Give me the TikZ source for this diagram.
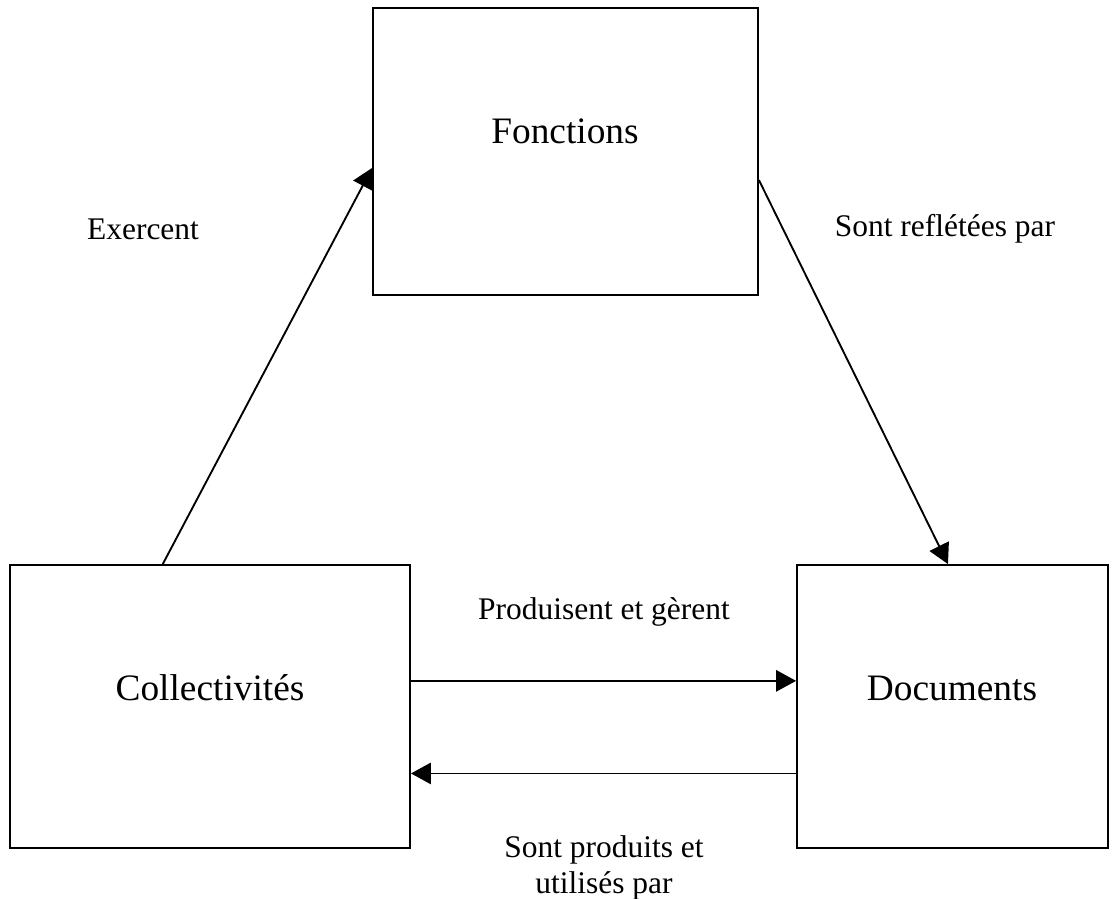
\documentclass[tikz,border=0pt]{standalone}
\usepackage{fontspec}
\setmainfont{Liberation Serif}
\usetikzlibrary{arrows.meta,calc}
\begin{document}
\begin{tikzpicture}[x=0.75pt,y=-0.75pt,
  box/.style={draw,line width=1.4pt,inner sep=0pt},
  big/.style={font=\fontsize{28}{32}\selectfont},
  small/.style={font=\fontsize{23.6}{26.5}\selectfont},
  conn/.style={line width=1.4pt,-{Triangle[length=15pt,width=16pt]}},
  lbl/.style={small,align=center,inner sep=0pt}]
\useasboundingbox (0,0) rectangle (1117,899);
\node[box,minimum width=385*0.75pt,minimum height=287*0.75pt] (fon) at (565.5,151.5) {};
\node[box,minimum width=400*0.75pt,minimum height=283*0.75pt] (col) at (210,706.5) {};
\node[box,minimum width=311*0.75pt,minimum height=283*0.75pt] (doc) at (952.5,706.5) {};
\node[big] (tfon) at (565,131) {Fonctions};
\node[big] (tcol) at (210,688) {Collectivités};
\node[big] (tdoc) at (952,688) {Documents};
\draw[conn] ($(col.north west)!0.3825!(col.north east)$) -- ($(fon.north west)!0.557!(fon.south west)$);
\draw[conn] ($(fon.north east)!0.599!(fon.south east)$) -- ($(doc.north west)!0.4855!(doc.north east)$);
\draw[conn] ($(col.north east)!0.41!(col.south east)$) -- ($(doc.north west)!0.41!(doc.south west)$);
\draw[conn] ($(doc.north west)!0.735!(doc.south west)$) -- ($(col.north east)!0.735!(col.south east)$);
\node[lbl] (l1) at (143,229) {Exercent};
\node[lbl] (l2) at (945,229) {Sont reflétées par};
\node[lbl] (l3) at (604,612) {Produisent et gèrent};
\node[lbl] (l4) at (604,868) {Sont produits et\\utilisés par};
\end{tikzpicture}
\end{document}
